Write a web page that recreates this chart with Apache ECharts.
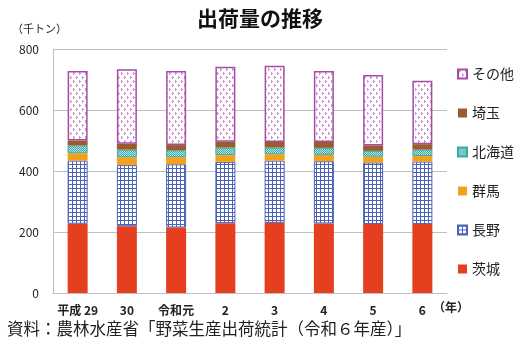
<!DOCTYPE html>
<html><head><meta charset="utf-8">
<script src="https://cdn.jsdelivr.net/npm/echarts@6/dist/echarts.min.js"></script>
<style>html,body{margin:0;padding:0;background:#fff}#c{width:520px;height:345px}</style>
</head><body><div id="c"></div>
<script>
var categories = ['平成 29','30','令和元','2','3','4','5','6'];
var ibaraki = [227,219,215,229,230,228,226,226];
var nagano = [207,201,207,201,204,204,202,205];
var gunma = [24,25,23,22,21,21,19,18];
var hokkaido = [26,25,23,25,22,23,19,21];
var saitama = [16,19,17,19,18,19,18,18];
var others = [228,245,243,246,250,233,231,208];
var yTicks = [0,200,400,600,800];

function tile(w,h,draw){var c=document.createElement('canvas');c.width=w;c.height=h;var g=c.getContext('2d');draw(g);return c;}
var gridPat = tile(4,4,function(g){g.fillStyle='#fff';g.fillRect(0,0,4,4);g.fillStyle='#4a62b8';g.fillRect(0,0,4,1);g.fillRect(0,0,1,4);});
var checkPat = tile(2,2,function(g){g.fillStyle='#bfe6e3';g.fillRect(0,0,2,2);g.fillStyle='#3aa9a3';g.fillRect(0,0,1,1);g.fillRect(1,1,1,1);});
var chevPat = tile(6,8,function(g){g.fillStyle='#fff';g.fillRect(0,0,6,8);g.strokeStyle='#b054b0';g.lineWidth=1;g.beginPath();g.moveTo(1,0.5);g.lineTo(2.5,1.5);g.lineTo(1,2.5);g.moveTo(4,4.5);g.lineTo(5.5,5.5);g.lineTo(4,6.5);g.stroke();});

var font = '"Noto Sans CJK JP", sans-serif';
function ser(name,data,style){return {name:name,type:'bar',stack:'t',data:data,barWidth:20,itemStyle:style,emphasis:{disabled:true}};}

var chart = echarts.init(document.getElementById('c'),null,{renderer:'canvas'});
chart.setOption({
  animation:false,
  textStyle:{fontFamily:font},
  title:{text:'出荷量の推移',left:'center',top:3,textStyle:{fontFamily:font,fontSize:21,fontWeight:'bold',color:'#111'}},
  grid:{left:53,right:73,top:49,bottom:52},
  legend:{orient:'vertical',left:452,top:62,itemWidth:9,itemHeight:9,itemGap:25,icon:'rect',
    data:['その他','埼玉','北海道','群馬','長野','茨城'],
    textStyle:{fontFamily:font,fontSize:14,color:'#222'}},
  xAxis:{type:'category',data:categories,axisTick:{show:false},
    axisLine:{lineStyle:{color:'#bfbfbf'}},
    axisLabel:{interval:0,fontFamily:font,fontSize:12,fontWeight:'bold',color:'#222',margin:11}},
  yAxis:{type:'value',min:yTicks[0],max:yTicks[yTicks.length-1],interval:200,
    axisLine:{show:true,lineStyle:{color:'#bfbfbf'}},axisTick:{show:false},
    splitLine:{lineStyle:{color:'#bfbfbf'}},
    axisLabel:{fontFamily:font,fontSize:12,color:'#222',margin:14}},
  graphic:[
    {type:'text',left:12,top:23,style:{text:'（千トン）',font:'11px '+font,fill:'#222'}},
    {type:'text',left:433,top:301,style:{text:'（年）',font:'bold 12px '+font,fill:'#222'}},
    {type:'text',left:7,top:320,style:{text:'資料：農林水産省「野菜生産出荷統計（令和６年産）」',font:'16.5px '+font,fill:'#222'}}
  ],
  series:[
    ser('茨城',ibaraki,{color:'#e63f1f'}),
    ser('長野',nagano,{color:{image:gridPat,repeat:'repeat'},borderColor:'#4a62b8',borderWidth:1}),
    ser('群馬',gunma,{color:'#f5a01a'}),
    ser('北海道',hokkaido,{color:{image:checkPat,repeat:'repeat'},borderColor:'#3aa9a3',borderWidth:1}),
    ser('埼玉',saitama,{color:'#9b5b2f'}),
    ser('その他',others,{color:{image:chevPat,repeat:'repeat'},borderColor:'#a64ca6',borderWidth:1.5})
  ]
});
</script></body></html>
